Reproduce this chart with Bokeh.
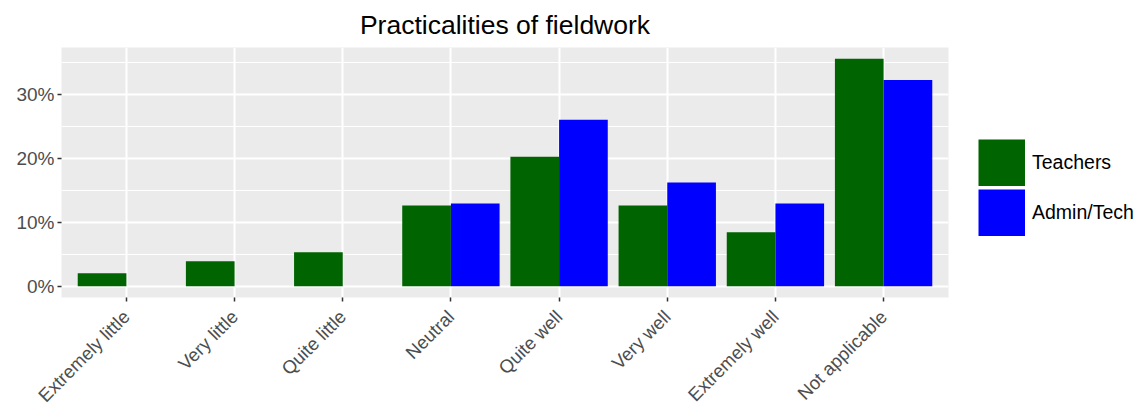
import numpy as np
from bokeh.plotting import figure
from bokeh.models import (ColumnDataSource, FactorRange, Range1d, FixedTicker,
                          PrintfTickFormatter, Legend, LegendItem, Title)
from bokeh.transform import dodge
from bokeh.embed import file_html
from bokeh.resources import INLINE

categories = ["Extremely little", "Very little", "Quite little", "Neutral",
              "Quite well", "Very well", "Extremely well", "Not applicable"]
teachers = [2.0, 3.9, 5.3, 12.6, 20.2, 12.6, 8.4, 35.5]
admin_tech = [0.0, 0.0, 0.0, 12.9, 26.0, 16.2, 12.9, 32.2]
y_ticks = [0, 10, 20, 30]
y_minor = [5, 15, 25, 35]

src = ColumnDataSource(dict(cat=categories, teachers=teachers, admin=admin_tech))

FONT = "Liberation Sans"
GREEN = "#006400"
BLUE = "#0000FF"

p = figure(x_range=FactorRange(*categories, range_padding=0.1, range_padding_units="absolute"),
           y_range=Range1d(-1.775, 37.275),
           frame_width=887, frame_height=250,
           min_border_left=61, min_border_top=47, min_border_right=190, min_border_bottom=102,
           output_backend="svg", toolbar_location=None,
           background_fill_color="#EBEBEB", border_fill_color="white",
           outline_line_color=None)

p.title = Title(text="Practicalities of fieldwork", align="center",
                text_font=FONT, text_font_size="26.5px", text_font_style="normal",
                text_color="black", standoff=15)

r1 = p.vbar(x=dodge("cat", -0.225, range=p.x_range), top="teachers", bottom=0, width=0.45,
            source=src, fill_color=GREEN, line_color=None)
r2 = p.vbar(x=dodge("cat", 0.225, range=p.x_range), top="admin", bottom=0, width=0.45,
            source=src, fill_color=BLUE, line_color=None)

# full-size legend keys (ggplot-style filled squares); NaN so nothing shows in the plot
k1 = p.line(x=[categories[0]], y=[np.nan], line_color=GREEN, line_width=47, line_cap="butt")
k2 = p.line(x=[categories[0]], y=[np.nan], line_color=BLUE, line_width=47, line_cap="butt")

# grids
p.xgrid.grid_line_color = "white"
p.xgrid.grid_line_width = 2
p.ygrid.grid_line_color = "white"
p.ygrid.grid_line_width = 2
p.ygrid.minor_grid_line_color = "white"
p.ygrid.minor_grid_line_width = 1

# axes
p.yaxis.ticker = FixedTicker(ticks=y_ticks, minor_ticks=y_minor)
p.yaxis.formatter = PrintfTickFormatter(format="%d%%")
for ax in (p.xaxis, p.yaxis):
    ax.axis_line_color = None
    ax.major_tick_line_color = "#333333"
    ax.major_tick_line_width = 1.5
    ax.major_tick_in = 0
    ax.major_tick_out = 4
    ax.minor_tick_line_color = None
    ax.major_label_text_font = FONT
    ax.major_label_text_font_size = "19px"
    ax.major_label_text_color = "#4D4D4D"
    ax.major_label_standoff = 3
p.xaxis.major_label_orientation = np.pi / 4
p.xaxis.major_label_standoff = 12
p.xaxis.major_label_text_font_size = "18.5px"

legend = Legend(items=[LegendItem(label="Teachers", renderers=[r1, k1]),
                       LegendItem(label="Admin/Tech", renderers=[r2, k2])],
                location=(30, 61), orientation="vertical",
                glyph_width=47, glyph_height=47, label_height=47, spacing=3,
                padding=0, margin=0, label_standoff=7,
                label_text_font=FONT, label_text_font_size="19.5px", label_text_color="black",
                border_line_color=None, background_fill_alpha=0)
p.add_layout(legend, "right")

open("out.html", "w").write(file_html(p, INLINE))
